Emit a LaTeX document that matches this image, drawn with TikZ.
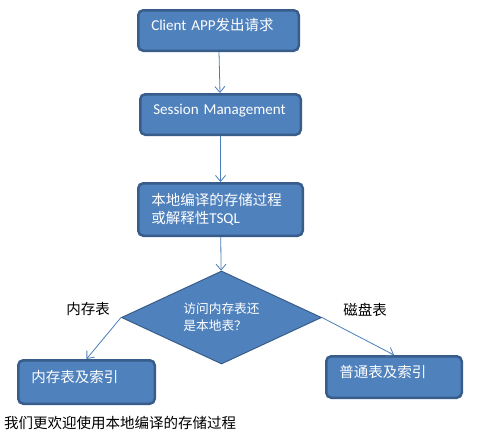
\documentclass[tikz,border=0pt]{standalone}
\usepackage{fontspec}
\setmainfont{Noto Sans CJK SC}
\newfontfamily\latfont[Scale=1.04]{Carlito}
\usetikzlibrary{shapes.geometric,arrows.meta}
\definecolor{boxfill}{HTML}{4F81BD}
\definecolor{boxline}{HTML}{385D8A}
\definecolor{arrowline}{HTML}{4A7EBB}
\tikzset{
  flowbox/.style={draw=boxline, fill=boxfill, line width=2.5pt, rounded corners=5pt,
    text=white, align=left, inner xsep=13pt, font=\fontsize{14.5}{18}\selectfont},
  oneline/.style={text height=7pt, text depth=7pt},
  choice/.style={diamond, aspect=2, draw=boxline, fill=boxfill, line width=1pt, text=white,
    align=left, inner sep=0pt, minimum width=200pt, minimum height=93pt,
    font=\fontsize{12.7}{17}\selectfont},
  flowarrow/.style={draw=arrowline, line width=0.8pt, -{Straight Barb[length=6pt,width=10pt]}},
  plainlabel/.style={font=\fontsize{14.5}{18}\selectfont, inner sep=0pt}
}
\begin{document}
\begin{tikzpicture}[x=1pt,y=-1pt]
  \fill[white] (0,0) rectangle (477,437);
  \useasboundingbox (0,0) rectangle (477,437);
  % flow boxes
  \node[flowbox, oneline, text width=134.5pt, minimum height=40.5pt] (client) at (218.5,30.5)
    {{\latfont Client APP}发出请求};
  \node[flowbox, oneline, text width=134.5pt, minimum height=40.5pt] (session) at (220.5,114.5)
    {{\latfont Session Management}};
  \node[flowbox, text width=138.5pt, minimum height=52.5pt] (proc) at (220.5,209.5)
    {本地编译的存储过程\\或解释性{\latfont TSQL}};
  \node[choice] (which) at (221.5,317.5) {访问内存表还\\是本地表？};
  \node[flowbox, oneline, text width=110.5pt, minimum height=43.5pt] (memtab) at (86.5,382)
    {内存表及索引};
  \node[flowbox, oneline, text width=109.5pt, minimum height=41.5pt] (disktab) at (394,377)
    {普通表及索引};
  % labels
  \node[plainlabel] (memlbl) at (88,309) {内存表};
  \node[plainlabel] (disklbl) at (365,310) {磁盘表};
  \node[plainlabel, anchor=west] (note) at (4,423) {我们更欢迎使用本地编译的存储过程};
  % arrows
  \draw[flowarrow] (client) -- (session);
  \draw[flowarrow] (session) -- (proc);
  \draw[flowarrow] (proc) -- (which);
  \draw[flowarrow] (which.west) -- (memtab.north);
  \draw[flowarrow] (which.east) -- (disktab.north);
\end{tikzpicture}
\end{document}
